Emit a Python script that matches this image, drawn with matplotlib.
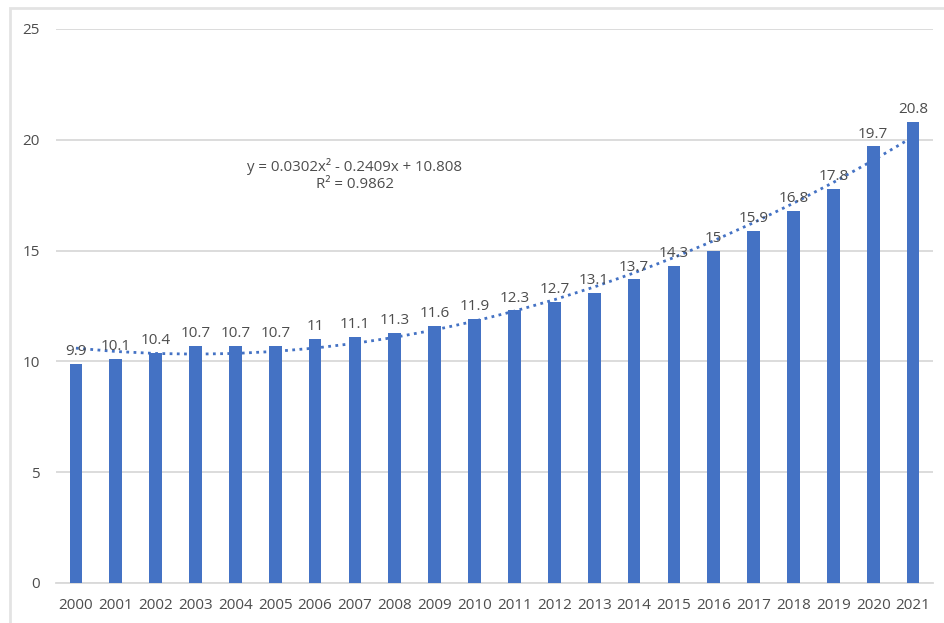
import numpy as np
import matplotlib.pyplot as plt
from matplotlib.patches import Rectangle

# ------------------------- Data -------------------------
years = [str(y) for y in range(2000, 2022)]
values = [9.9, 10.1, 10.4, 10.7, 10.7, 10.7, 11, 11.1, 11.3, 11.6, 11.9,
          12.3, 12.7, 13.1, 13.7, 14.3, 15, 15.9, 16.8, 17.8, 19.7, 20.8]
y_ticks = [0, 5, 10, 15, 20, 25]
trend_label = "y = 0.0302x\u00b2 - 0.2409x + 10.808\nR\u00b2 = 0.9862"

BLUE = "#4472C4"
GREY_TXT = "#4D4D4D"
GRID = "#D9D9D9"

plt.rcParams["font.family"] = ["Open Sans", "DejaVu Sans"]

fig = plt.figure(figsize=(9.44, 6.23), dpi=100)
ax = fig.add_axes([56 / 944, 40 / 623, (933 - 56) / 944, (583 - 29) / 623])

x = np.arange(len(values))
ax.bar(x, values, width=0.32, color=BLUE, zorder=3)

for xi, v in zip(x, values):
    ax.annotate(f"{v:g}", (xi, v), xytext=(0, 3.5), textcoords="offset points",
                ha="center", va="bottom", fontsize=11, color=GREY_TXT, zorder=5)

# polynomial trendline (Excel style, x = 1..n)
xe = x + 1
coef = np.polyfit(xe, values, 2)
ax.plot(x, np.polyval(coef, xe), linestyle=(0, (1, 1.6)), color=BLUE,
        linewidth=2, zorder=4)
ax.text(7.0, 18.4, trend_label, ha="center", va="center", fontsize=10.8,
        color=GREY_TXT, linespacing=1.2)

ax.set_xlim(-0.5, len(values) - 0.5)
ax.set_ylim(0, 25)
ax.set_yticks(y_ticks)
ax.set_xticks(x)
ax.set_xticklabels(years)
ax.yaxis.grid(True, color=GRID, linewidth=1.3, zorder=0)
ax.set_axisbelow(True)
for s in ["top", "right", "left"]:
    ax.spines[s].set_visible(False)
ax.spines["bottom"].set_color(GRID)
ax.spines["bottom"].set_linewidth(1.3)
ax.tick_params(length=0, labelsize=11, colors=GREY_TXT)
ax.tick_params(axis="y", pad=11.5)
ax.tick_params(axis="x", pad=10.5)

# light frame around the chart area
fig.patches.append(Rectangle((10 / 944, -0.05), 1.0, 1 - 8 / 623 + 0.05,
                             transform=fig.transFigure, fill=False,
                             edgecolor="#E3E3E3", linewidth=2))

fig.savefig("out.png", dpi=100)
